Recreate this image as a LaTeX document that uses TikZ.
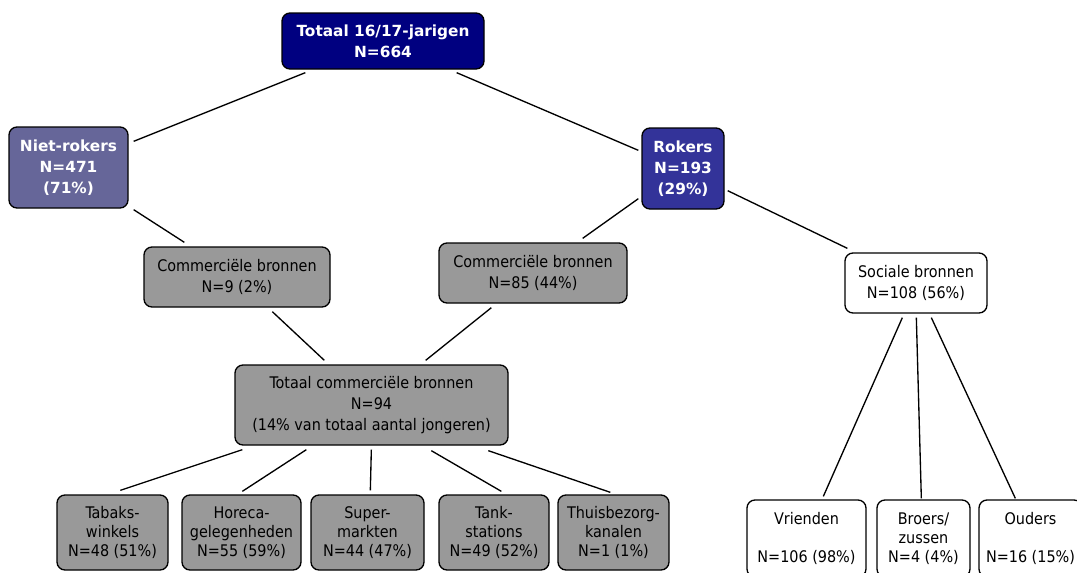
\documentclass[tikz,border=0pt]{standalone}
\usepackage{fontspec}
\setmainfont{DejaVu Sans}
\newfontfamily\condfont{DejaVu Sans Condensed}
\usetikzlibrary{calc}
\usepackage{xcolor}
\definecolor{navyblue}{HTML}{000080}
\definecolor{nietblue}{HTML}{666699}
\definecolor{rokerblue}{HTML}{333399}
\definecolor{boxgray}{HTML}{999999}

\tikzset{
  box/.style={draw=black,line width=1pt,rounded corners=6pt,align=center,inner sep=0pt},
  boxsize/.style 2 args={minimum width=#1*0.75pt,minimum height=#2*0.75pt},
  boldbox/.style={box,text=white,font=\fontsize{11.5}{15.75}\selectfont\bfseries},
  plainbox/.style={box,font=\condfont\fontsize{12}{15.5}\selectfont},
  smallbox/.style={box,font=\condfont\fontsize{12}{14.3}\selectfont},
  link/.style={line width=1pt}
}

\begin{document}
\begin{tikzpicture}[x=0.75pt,y=-0.75pt]

\useasboundingbox (0,0) rectangle (1077,572);
\clip (0,0) rectangle (1077,572);

\node[boldbox,fill=navyblue,boxsize={202}{56}] (top) at (383,41) {Totaal 16/17-jarigen\\N=664};

\node[boldbox,fill=nietblue,boxsize={119}{81}] (niet) at (68.5,167.5) {Niet-rokers\\N=471\\(71\%)};
\node[boldbox,fill=rokerblue,boxsize={82}{81}] (rokers) at (683,168.5) {Rokers\\N=193\\(29\%)};

\node[plainbox,fill=boxgray,boxsize={186}{60}] (comniet) at (237,277) {Commerciële bronnen\\N=9 (2\%)};
\node[plainbox,fill=boxgray,boxsize={188}{60}] (comrok) at (533,273) {Commerciële bronnen\\N=85 (44\%)};
\node[plainbox,fill=white,boxsize={142}{60}] (sociaal) at (916,283) {Sociale bronnen\\N=108 (56\%)};

\node[plainbox,fill=boxgray,boxsize={273}{80}] (totcom) at (371.5,405) {Totaal commerciële bronnen\\N=94\\(14\% van totaal aantal jongeren)};

\node[smallbox,fill=boxgray,boxsize={111}{75}] (tabak) at (112.5,532.5) {Tabaks-\\winkels\\N=48 (51\%)};
\node[smallbox,fill=boxgray,boxsize={119}{75}] (horeca) at (241.5,532.5) {Horeca-\\gelegenheden\\N=55 (59\%)};
\node[smallbox,fill=boxgray,boxsize={113}{75}] (super) at (367.5,532.5) {Super-\\markten\\N=44 (47\%)};
\node[smallbox,fill=boxgray,boxsize={110}{75}] (tank) at (494,532.5) {Tank-\\stations\\N=49 (52\%)};
\node[smallbox,fill=boxgray,boxsize={111}{75}] (thuis) at (613.5,532.5) {Thuisbezorg-\\kanalen\\N=1 (1\%)};

\node[smallbox,fill=white,boxsize={119}{77}] (vrienden) at (806.5,538.5) {Vrienden\\[14.3pt]N=106 (98\%)};
\node[smallbox,fill=white,boxsize={93}{77}] (broers) at (923.5,538.5) {Broers/\\zussen\\N=4 (4\%)};
\node[smallbox,fill=white,boxsize={103}{77}] (ouders) at (1030.5,538.5) {Ouders\\[14.3pt]N=16 (15\%)};

\draw[link] ($(top.south west)+(24,3)$) -- ($(niet.north east)+(5,15)$);
\draw[link] ($(top.south east)+(-28,3)$) -- ($(rokers.north west)+(-3,23)$);

\draw[link] ($(niet.south east)+(5,1)$) -- ($(comniet.north west)+(41,-4)$);
\draw[link] ($(rokers.south west)+(-3,-11)$) -- ($(comrok.north east)+(-45,-4)$);
\draw[link] ($(rokers.south east)+(3,-19)$) -- ($(sociaal.north west)+(3,-4)$);

\draw[link] ($(comniet.south west)+(129,4)$) -- ($(totcom.north west)+(90,-4)$);
\draw[link] ($(comrok.south west)+(53,4)$) -- ($(totcom.north east)+(-83,-4)$);

\draw[link] ($(totcom.south west)+(8,4)$) -- ($(tabak.north west)+(64,-4)$);
\draw[link] ($(totcom.south west)+(72,4)$) -- ($(horeca.north west)+(61,-3)$);
\draw[link] ($(totcom.south west)+(137,4)$) -- ($(super.north west)+(60,-4)$);
\draw[link] ($(totcom.south west)+(197,5)$) -- ($(tank.north west)+(63,-3)$);
\draw[link] ($(totcom.south west)+(254,5)$) -- ($(thuis.north west)+(53,-2)$);

\draw[link] ($(sociaal.south west)+(58,4)$) -- ($(vrienden.north west)+(77,-3)$);
\draw[link] ($(sociaal.south west)+(72,4)$) -- ($(broers.north west)+(45,-1)$);
\draw[link] ($(sociaal.south west)+(87,4)$) -- ($(ouders.north west)+(37,-1)$);

\end{tikzpicture}
\end{document}
